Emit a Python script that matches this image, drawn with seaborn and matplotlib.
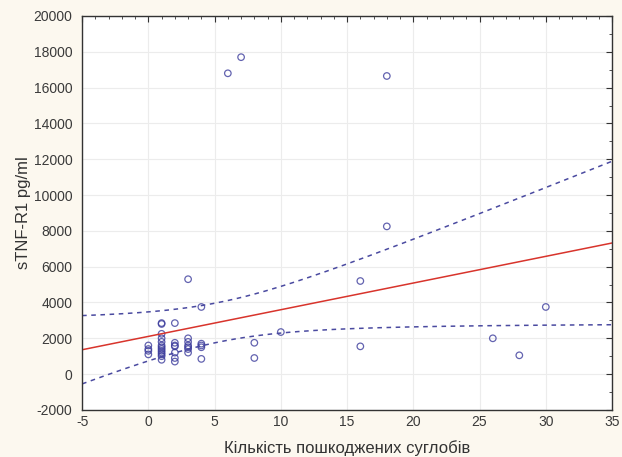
import numpy as np
import pandas as pd
import seaborn as sns
import matplotlib.pyplot as plt

# Data (x = number of damaged joints, y = sTNF-R1 pg/ml)
# the low cluster has overlapping circles, so a few of its values are estimates
joints = [0, 0, 0, 0,
          1, 1, 1, 1, 1, 1, 1, 1, 1, 1, 1, 1, 1,
          2, 2, 2, 2, 2, 2, 2,
          3, 3, 3, 3, 3, 3, 3,
          4, 4, 4, 4, 4,
          6, 7, 8, 8, 10, 16, 16, 18, 18, 26, 28, 30]
stnf = [1600, 1400, 1300, 1100,
        2850, 2800, 2250, 2000, 1800, 1600, 1500, 1400, 1300, 1200, 1100, 1000, 800,
        2850, 1750, 1600, 1550, 1200, 900, 700,
        5300, 2000, 1800, 1600, 1500, 1400, 1200,
        3750, 1700, 1600, 1500, 850,
        16800, 17700, 1750, 900, 2350, 5200, 1550, 16650, 8250, 2000, 1050, 3750]

x_label = "Кількість пошкоджених суглобів"
y_label = "sTNF-R1 pg/ml"

df = pd.DataFrame({"x": joints, "y": stnf})

sns.set_style("white")
plt.rcParams["font.family"] = ["Liberation Sans", "DejaVu Sans"]
plt.rcParams["axes.unicode_minus"] = False

bg = "#fcf8ef"
fig = plt.figure(figsize=(6.22, 4.57), dpi=100, facecolor=bg)
ax = fig.add_axes([0.132, 0.103, 0.852, 0.862])
ax.set_xlim(-5, 35)
ax.set_ylim(-2000, 20000)

# scatter + fitted line (line spans the whole x range)
sns.regplot(data=df, x="x", y="y", ax=ax, ci=None, truncate=False,
            scatter_kws=dict(facecolors="none", edgecolors="#3c3c9c", s=22, linewidths=0.9),
            line_kws=dict(color="#d8342c", lw=1.1))

# 95% confidence band for the mean, drawn as dashed lines
xv = np.asarray(joints, float)
yv = np.asarray(stnf, float)
n = len(xv)
b, a = np.polyfit(xv, yv, 1)
resid = yv - (a + b * xv)
s = np.sqrt(np.sum(resid ** 2) / (n - 2))
xg = np.linspace(-5, 35, 200)
se = s * np.sqrt(1 / n + (xg - xv.mean()) ** 2 / np.sum((xv - xv.mean()) ** 2))
t = 2.01
yg = a + b * xg
ax.plot(xg, yg + t * se, ls=(0, (3, 3)), color="#4a4aa0", lw=1.1)
ax.plot(xg, yg - t * se, ls=(0, (3, 3)), color="#4a4aa0", lw=1.1)

ax.set_xlim(-5, 35)
ax.set_ylim(-2000, 20000)
ax.set_xticks(range(-5, 36, 5))
ax.set_yticks(range(-2000, 20001, 2000))
ax.set_xticks(np.arange(-5, 35.1, 1), minor=True)
ax.set_yticks(range(-2000, 20001, 1000), minor=True)
ax.grid(True, which="major", color="#ececec", lw=0.8)
ax.tick_params(which="both", direction="in", top=True, right=True,
               labelsize=10, colors="#333333", labelcolor="#3a3a3a")
ax.tick_params(which="major", length=4)
ax.tick_params(which="minor", length=2)
ax.tick_params(axis="y", pad=7)
for sp in ax.spines.values():
    sp.set_color("#333333")
    sp.set_linewidth(1.0)

ax.set_xlabel(x_label, fontsize=12, color="#333333", labelpad=8)
ax.set_ylabel(y_label, fontsize=12, color="#333333", labelpad=2)

fig.savefig("out.png", dpi=100, facecolor=bg)
